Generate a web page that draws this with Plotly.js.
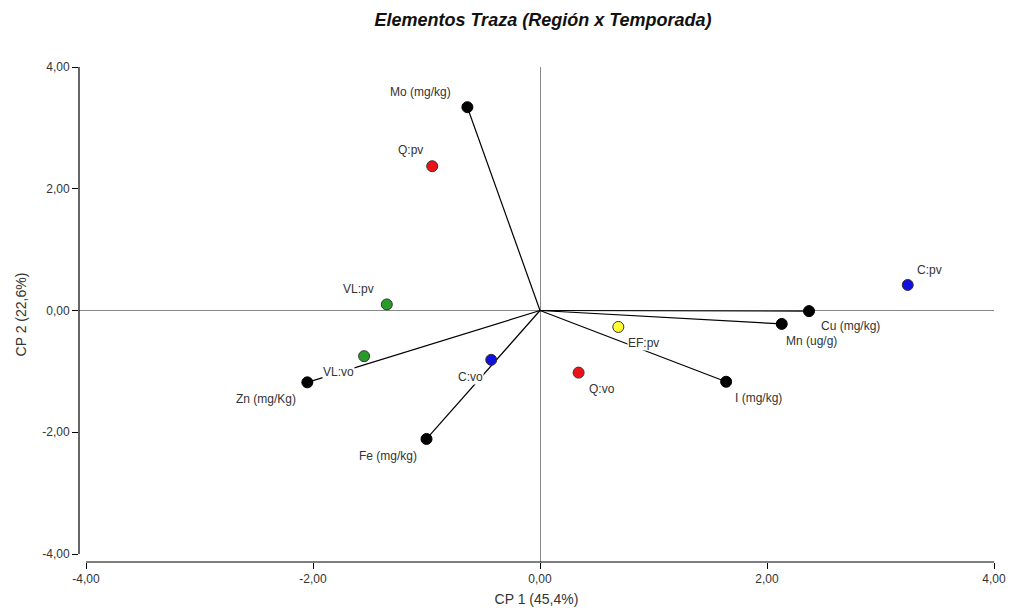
<!DOCTYPE html>
<html><head><meta charset="utf-8">
<script src="https://cdn.plot.ly/plotly-3.0.1.min.js"></script>
<style>html,body{margin:0;padding:0;background:#fff}#chart{width:1013px;height:608px}</style>
</head><body><div id="chart"></div>
<script>
// Variables (loadings, drawn as vectors from the origin)
const varNames = ["Mo (mg/kg)", "Zn (mg/Kg)", "Fe (mg/kg)", "I (mg/kg)", "Mn (ug/g)", "Cu (mg/kg)"];
const varX = [-0.64, -2.05, -1.00, 1.64, 2.13, 2.37];
const varY = [3.34, -1.18, -2.11, -1.17, -0.22, -0.01];
// Observations (Región:Temporada)
const obsNames = ["Q:pv", "VL:pv", "VL:vo", "C:vo", "Q:vo", "EF:pv", "C:pv"];
const obsX = [-0.95, -1.35, -1.55, -0.43, 0.34, 0.69, 3.24];
const obsY = [2.37, 0.10, -0.75, -0.81, -1.02, -0.27, 0.42];
const obsColors = ["#e8141a", "#2a9a2a", "#2a9a2a", "#1010e0", "#e8141a", "#ffff33", "#1010e0"];
// Tick values and labels
const tickVals = [-4, -2, 0, 2, 4];
const tickLabels = ["-4,00", "-2,00", "0,00", "2,00", "4,00"];

// label offsets in pixels [dx, dy(up)]
const varLabelOff = [[-47, 15], [-41, -17], [-39, -17], [32, -16], [30, -17], [41, -15]];
const obsLabelOff = [[-22, 16], [-28, 15], [-26, -16], [-21, -17], [23, -16], [25, -16], [22, 15]];

const lx = [], ly = [];
varX.forEach((x, i) => { lx.push(0, x, null); ly.push(0, varY[i], null); });

const traces = [
  {x: lx, y: ly, mode: "lines", line: {color: "#000", width: 1.2}, hoverinfo: "skip", showlegend: false},
  {x: varX, y: varY, mode: "markers", text: varNames,
   marker: {color: "#000", size: 11, line: {color: "#000", width: 1}}, showlegend: false},
  {x: obsX, y: obsY, mode: "markers", text: obsNames,
   marker: {color: obsColors, size: 11, line: {color: "#333", width: 1}}, showlegend: false}
];

const FAM = "Liberation Sans, Arial, sans-serif";
const annotations = [];
const lblFont = {family: FAM, size: 12, color: "#333"};
varNames.forEach((n, i) => annotations.push({x: varX[i], y: varY[i], xref: "x", yref: "y", text: n,
  showarrow: false, xshift: varLabelOff[i][0], yshift: varLabelOff[i][1], font: lblFont, bgcolor: "#fff", borderpad: 0}));
obsNames.forEach((n, i) => annotations.push({x: obsX[i], y: obsY[i], xref: "x", yref: "y", text: n,
  showarrow: false, xshift: obsLabelOff[i][0], yshift: obsLabelOff[i][1], font: lblFont, bgcolor: "#fff", borderpad: 0}));

const tickFont = {family: FAM, size: 12, color: "#333"};
const layout = {
  width: 1013, height: 608,
  margin: {l: 79, r: 19, t: 67, b: 46},
  paper_bgcolor: "#fff", plot_bgcolor: "#fff",
  title: {text: "<b><i>Elementos Traza (Región x Temporada)</i></b>", x: 0.536, xanchor: "center", y: 0.967, yanchor: "middle",
    font: {family: FAM, size: 18, color: "#111"}},
  xaxis: {range: [-4.062, 4], tickmode: "array", tickvals: tickVals, ticktext: tickLabels, ticks: "outside", ticklen: 6, tickcolor: "#000",
    showgrid: false, zeroline: true, zerolinecolor: "#888", zerolinewidth: 1, showline: false,
    tickfont: tickFont, title: {text: "CP 1 (45,4%)", standoff: 8, font: {family: FAM, size: 14, color: "#333"}}},
  yaxis: {range: [-4.131, 4], tickmode: "array", tickvals: tickVals, ticktext: tickLabels, ticks: "outside", ticklen: 6, tickcolor: "#000",
    showgrid: false, zeroline: true, zerolinecolor: "#888", zerolinewidth: 1, showline: false,
    tickfont: tickFont, title: {text: "CP 2 (22,6%)", standoff: 12, font: {family: FAM, size: 14, color: "#333"}}},
  shapes: [
    {type: "line", xref: "x", yref: "paper", x0: -4, x1: 4, y0: 0, y1: 0, line: {color: "#000", width: 1.2}},
    {type: "line", xref: "paper", yref: "y", x0: 0, x1: 0, y0: -4, y1: 4, line: {color: "#000", width: 1.2}}
  ],
  annotations: annotations,
  showlegend: false
};
Plotly.newPlot("chart", traces, layout, {displayModeBar: false, staticPlot: true});
</script>
</body></html>
